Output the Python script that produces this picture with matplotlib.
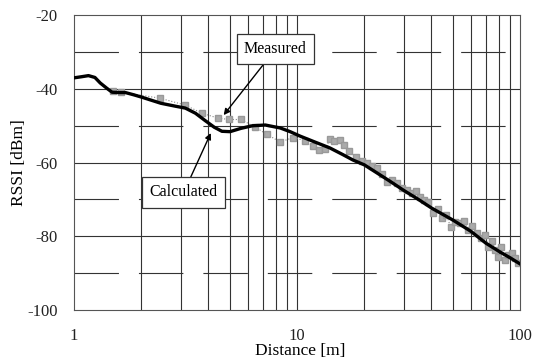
import matplotlib.pyplot as plt
import numpy as np

plt.rcParams["font.family"] = ["Liberation Serif", "DejaVu Serif"]
plt.rcParams["axes.unicode_minus"] = False

# calculated RSSI (thick black curve)
calc_dist = [1.0, 1.08, 1.16, 1.24, 1.31, 1.4, 1.48, 1.6, 1.7, 1.85, 2.0, 2.2, 2.45,
             2.85, 3.15, 3.5, 3.85, 4.25, 4.6, 5.0, 5.6, 6.3, 7.2, 8.4, 9.3, 10.3,
             12.0, 14.0, 16.0, 17.8, 20.0, 22.8, 26.0, 30.0, 35.0, 40.0, 50.0,
             60.0, 70.0, 80.0, 90.0, 100.0]
calc_rssi = [-37.0, -36.7, -36.4, -36.9, -38.4, -39.8, -40.9, -41.0, -41.0, -41.6, -42.2,
             -43.0, -43.9, -44.7, -45.2, -46.6, -48.5, -50.4, -51.5, -51.6, -50.7,
             -50.0, -49.8, -50.6, -51.6, -52.8, -54.4, -56.0, -57.8, -59.3, -60.6,
             -62.8, -65.0, -67.5, -70.0, -72.3, -75.6, -78.6, -81.8, -84.0, -85.8, -87.5]

# measured RSSI (grey squares)
meas_dist = [1.5, 1.63, 2.42, 3.15, 3.75, 4.4, 4.95, 5.6, 6.5, 7.3, 8.4, 9.6,
             10.8, 11.8, 12.5, 13.4, 14.0, 14.7, 15.5, 16.3, 17.0, 18.4, 19.5,
             20.6, 21.6, 22.8, 24.0, 25.3, 26.6, 28.0, 29.5, 31.0, 32.7, 34.0,
             35.6, 37.2, 38.7, 40.6, 42.6, 44.6, 46.7, 48.8, 51.0, 53.5, 55.9,
             58.4, 61.0, 63.8, 66.8, 69.8, 72.0, 74.6, 77.4, 79.5, 82.2, 85.2,
             88.2, 91.5, 94.8, 98.2]
meas_rssi = [-40.5, -40.9, -42.5, -44.4, -46.6, -47.9, -48.3, -48.3, -50.4,
             -52.3, -54.4, -53.2, -54.0, -55.6, -56.6, -56.4, -53.6, -54.2, -53.8,
             -55.3, -56.8, -58.5, -59.6, -60.2, -61.0, -61.5, -63.2, -65.3, -64.8,
             -65.6, -67.0, -67.5, -68.3, -67.6, -69.4, -70.2, -70.8, -73.7, -72.5,
             -75.1, -74.2, -77.5, -76.1, -76.4, -75.8, -78.3, -77.2, -79.1, -80.5,
             -79.6, -82.9, -81.2, -83.7, -85.6, -82.8, -86.4, -85.1, -84.6, -85.9,
             -87.3]

fig = plt.figure(figsize=(5.33, 3.61), dpi=100)
ax = fig.add_axes([0.139, 0.141, 0.837, 0.817])

ax.set_xscale("log")
ax.set_xlim(1, 100)
ax.set_ylim(-100, -20)

# grid: solid verticals at every log tick, solid majors and long-dashed minors horizontally
for d in [2, 3, 4, 5, 6, 7, 8, 9, 10, 20, 30, 40, 50, 60, 70, 80, 90]:
    ax.axvline(d, color="#333333", lw=0.8, zorder=1)
for v in [-40, -60, -80]:
    ax.axhline(v, color="#333333", lw=0.8, zorder=1)
for v in [-30, -50, -70, -90]:
    ax.axhline(v, color="#333333", lw=0.8, linestyle=(0, (40, 18)), zorder=1)

ax.plot(meas_dist, meas_rssi, color="#888888", lw=0.8, linestyle=":",
        marker="s", markersize=3.8, markerfacecolor="#aaaaaa",
        markeredgecolor="#999999", zorder=2)
ax.plot(calc_dist, calc_rssi, color="black", lw=2.4, zorder=3)

box = dict(boxstyle="square,pad=0.45", fc="white", ec="#333333", lw=0.9)
arrow = dict(arrowstyle="-|>", color="black", lw=1.0, mutation_scale=9, shrinkA=0)
ax.annotate("Measured", xy=(4.6, -47.7), xytext=(8.0, -29.2), fontsize=11.5,
            ha="center", va="center", bbox=box, arrowprops=arrow, zorder=4)
ax.annotate("Calculated", xy=(4.15, -51.3), xytext=(3.1, -68.1), fontsize=11.5,
            ha="center", va="center", bbox=box, arrowprops=arrow, zorder=4)

ax.set_yticks([-100, -80, -60, -40, -20])
ax.set_xticks([1, 10, 100])
ax.set_xticklabels(["1", "10", "100"])
ax.minorticks_off()
ax.tick_params(length=0, labelsize=12, colors="#222222")
ax.tick_params(axis="x", pad=13)
ax.tick_params(axis="y", pad=12)

for s in ax.spines.values():
    s.set_color("#555555")
    s.set_linewidth(0.8)

ax.set_xlabel("Distance [m]", fontsize=12.5, va="top")
ax.xaxis.set_label_coords(0.507, -0.112)
ax.set_ylabel("RSSI [dBm]", fontsize=12.5)
ax.yaxis.set_label_coords(-0.105, 0.5)

fig.savefig("out.png", dpi=100)
